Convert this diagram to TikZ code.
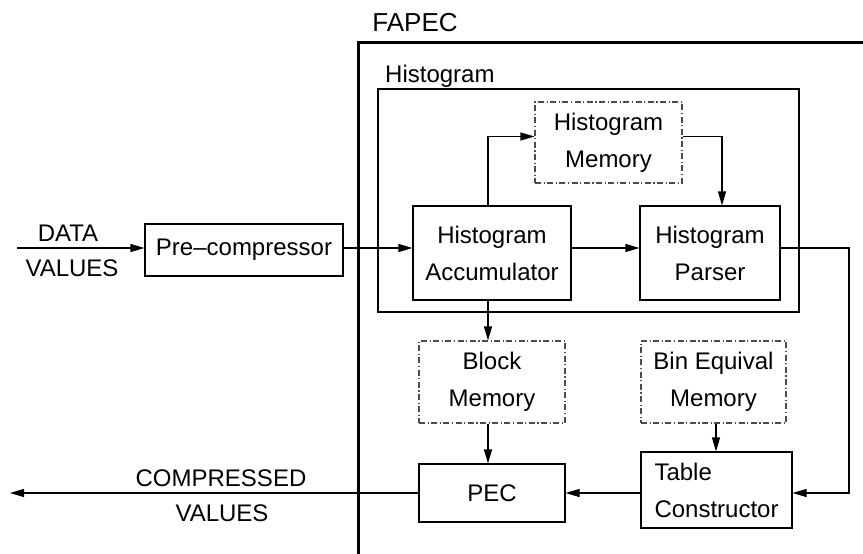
\documentclass[tikz,border=0pt]{standalone}
\usepackage{fontspec}
\setmainfont{Liberation Sans}
\usetikzlibrary{arrows.meta,calc}
\begin{document}
\begin{tikzpicture}[x=1pt,y=-1pt,
  txt/.style={font=\fontsize{24}{37}\selectfont, align=center, inner sep=0pt},
  mem/.style={draw=black!70, line width=1.1pt, dash pattern=on 6pt off 2.5pt on 1.2pt off 2.5pt, txt},
  arr/.style={line width=1.1pt, -{Triangle[length=14pt,width=8pt]}},
  ln/.style={line width=1.1pt}]
\useasboundingbox (0,0) rectangle (863,554);
% frames
\draw[line width=3pt] (358,570) -- (358,42) -- (875,42);
\draw[line width=2pt] (378,89) rectangle (799,312);
\node[txt, font=\fontsize{26}{30}\selectfont] (fapec) at (415,23) {FAPEC};
\node[txt, anchor=west] (histlbl) at (385,76) {Histogram};
% blocks
\node[draw, line width=1.1pt, txt, minimum width=198, minimum height=52] (pre) at (244,250) {Pre--compressor};
\node[draw, line width=1.1pt, txt, minimum width=158, minimum height=94] (acc) at (492,253) {Histogram\\Accumulator};
\node[draw, line width=1.1pt, txt, minimum width=140, minimum height=94] (par) at (710,253) {Histogram\\Parser};
\node[mem, minimum width=147, minimum height=81] (hmem) at (608.5,142.5) {Histogram\\Memory};
\node[mem, minimum width=146, minimum height=82] (bmem) at (492,382) {Block\\Memory};
\node[mem, minimum width=145, minimum height=82] (emem) at (713.5,382) {Bin Equival\\Memory};
\node[draw, line width=1.1pt, txt, minimum width=146, minimum height=58] (pec) at (492,493) {PEC};
\node[draw, line width=1.1pt, txt, align=left, text width=124, minimum width=151, minimum height=76] (tab) at (716.5,490) {Table\\Constructor};
% labels
\node[txt] (din) at (68,233) {DATA};
\node[txt] (vin) at (72,268) {VALUES};
\node[txt] (cout) at (221,478) {COMPRESSED};
\node[txt] (vout) at (222,513) {VALUES};
\coordinate (src) at (17,248);
\coordinate (sink) at (10,493);
\coordinate (fb) at (849,248);
\coordinate (ebot) at ([xshift=2.5pt]emem.south);
% connectors
\draw[arr] (src) -- (src -| pre.west);
\draw[arr] (pre.east |- src) -- (src -| acc.west);
\draw[arr] ([yshift=5pt]acc.east) -- ([yshift=5pt]par.west);
\draw[arr] ([xshift=-4pt]acc.north) |- ([yshift=6pt]hmem.west);
\draw[arr] ([yshift=6pt]hmem.east) -| ([xshift=12pt]par.north);
\draw[arr] ([yshift=5pt]par.east) -- (fb) |- ([yshift=-3pt]tab.east);
\draw[arr] ([xshift=-4pt]acc.south) -- ([xshift=-4pt]bmem.north);
\draw[arr] ([xshift=-4pt]bmem.south) -- ([xshift=-4pt]pec.north);
\draw[arr] (ebot) -- (tab.north -| ebot);
\draw[arr] ([yshift=-3pt]tab.west) -- (pec.east);
\draw[arr] (pec.west) -- (sink);
\end{tikzpicture}
\end{document}
